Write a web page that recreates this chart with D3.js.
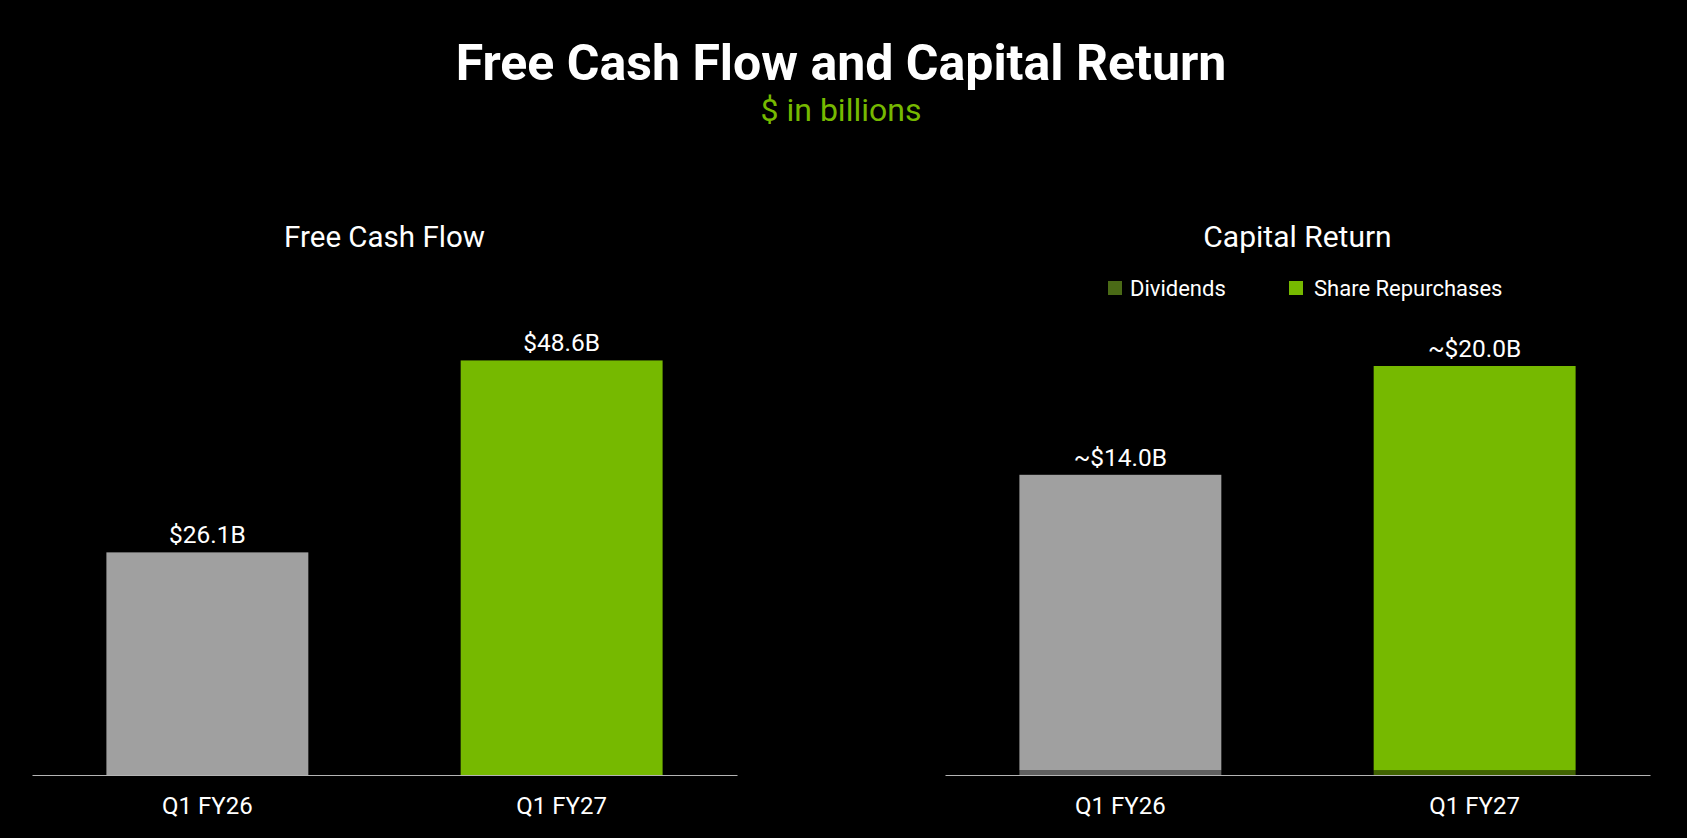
<!DOCTYPE html>
<html>
<head>
<meta charset="utf-8">
<script src="https://cdn.jsdelivr.net/npm/d3@7"></script>
<style>
  html, body { margin: 0; padding: 0; background: #000; }
  svg { display: block; }
  text { font-family: Roboto, "Noto Sans", sans-serif; fill: #fff; }
</style>
</head>
<body>
<div id="chart"></div>
<script>
// values
const quarters = ["Q1 FY26", "Q1 FY27"];
const freeCashFlow = [26.1, 48.6];
const fcfLabels = ["$26.1B", "$48.6B"];
const dividends = [0.23, 0.23];
const repurchases = [14.45, 19.77];
const returnLabels = ["~$14.0B", "~$20.0B"];
const seriesNames = ["Dividends", "Share Repurchases"];

const width = 1687, height = 838;
const baseY = 775;
const barColors = ["#a0a0a0", "#76b900"];
const divColors = ["#5f5f5f", "#406200"];

const svg = d3.select("#chart").append("svg")
  .attr("width", width)
  .attr("height", height);

svg.append("rect").attr("width", width).attr("height", height).attr("fill", "#000");

// headings
svg.append("text")
  .attr("x", 841).attr("y", 80)
  .attr("text-anchor", "middle")
  .attr("font-size", 50).attr("font-weight", 700)
  .text("Free Cash Flow and Capital Return");

svg.append("text")
  .attr("x", 841).attr("y", 121)
  .attr("text-anchor", "middle")
  .attr("font-size", 32)
  .style("fill", "#76b900")
  .text("$ in billions");

function panelAxis(g, x) {
  const axis = d3.axisBottom(x).tickSize(0).tickPadding(22);
  g.attr("transform", `translate(0,${baseY})`).call(axis);
  g.select(".domain").attr("stroke", "#b4b4b4").attr("stroke-width", 1.2);
  g.selectAll(".tick text")
    .attr("font-size", 24)
    .attr("font-family", "Roboto, 'Noto Sans', sans-serif")
    .attr("fill", "#fff");
}

// ---- left panel: free cash flow
const xL = d3.scaleBand().domain(quarters).range([32, 737])
  .paddingInner(0.43).paddingOuter(0.21);
const yL = d3.scaleLinear().domain([0, 50]).range([baseY, 348.5]);

svg.append("text")
  .attr("x", (32 + 737) / 2).attr("y", 247)
  .attr("text-anchor", "middle")
  .attr("font-size", 29.5)
  .text("Free Cash Flow");

const left = svg.append("g");
left.selectAll("rect")
  .data(quarters)
  .join("rect")
  .attr("x", d => xL(d))
  .attr("width", xL.bandwidth())
  .attr("y", (d, i) => yL(freeCashFlow[i]))
  .attr("height", (d, i) => yL(0) - yL(freeCashFlow[i]))
  .attr("fill", (d, i) => barColors[i]);

left.selectAll("text.val")
  .data(quarters)
  .join("text")
  .attr("class", "val")
  .attr("x", d => xL(d) + xL.bandwidth() / 2)
  .attr("y", (d, i) => yL(freeCashFlow[i]) - 9)
  .attr("text-anchor", "middle")
  .attr("font-size", 24.5)
  .text((d, i) => fcfLabels[i]);

svg.append("g").call(panelAxis, xL);

// ---- right panel: capital return (stacked)
const xR = d3.scaleBand().domain(quarters).range([945, 1650])
  .paddingInner(0.43).paddingOuter(0.21);
const yR = d3.scaleLinear().domain([0, 20]).range([baseY, 366]);

svg.append("text")
  .attr("x", (945 + 1650) / 2).attr("y", 247)
  .attr("text-anchor", "middle")
  .attr("font-size", 30)
  .text("Capital Return");

const table = quarters.map((q, i) => ({
  quarter: q, idx: i, dividends: dividends[i], repurchases: repurchases[i]
}));
const stacked = d3.stack().keys(["dividends", "repurchases"])(table);

const right = svg.append("g");
right.selectAll("g.layer")
  .data(stacked)
  .join("g")
  .attr("class", "layer")
  .selectAll("rect")
  .data(layer => layer.map(d => ({ key: layer.key, d })))
  .join("rect")
  .attr("x", p => xR(p.d.data.quarter))
  .attr("width", xR.bandwidth())
  .attr("y", p => yR(p.d[1]))
  .attr("height", p => yR(p.d[0]) - yR(p.d[1]))
  .attr("fill", p => p.key === "dividends" ? divColors[p.d.data.idx] : barColors[p.d.data.idx]);

right.selectAll("text.val")
  .data(table)
  .join("text")
  .attr("class", "val")
  .attr("x", d => xR(d.quarter) + xR.bandwidth() / 2)
  .attr("y", d => yR(d.dividends + d.repurchases) - 9)
  .attr("text-anchor", "middle")
  .attr("font-size", 24.5)
  .text(d => returnLabels[d.idx]);

svg.append("g").call(panelAxis, xR);

// legend
const legendX = [1108, 1289];
const legendColors = ["#4a6a16", "#76b900"];
const legend = svg.append("g").selectAll("g")
  .data(seriesNames)
  .join("g")
  .attr("transform", (d, i) => `translate(${legendX[i]},281)`);
legend.append("rect")
  .attr("width", 14).attr("height", 14)
  .attr("fill", (d, i) => legendColors[i]);
legend.append("text")
  .attr("x", (d, i) => i === 0 ? 22 : 25)
  .attr("y", 15)
  .attr("font-size", 22)
  .text(d => d);
</script>
</body>
</html>
